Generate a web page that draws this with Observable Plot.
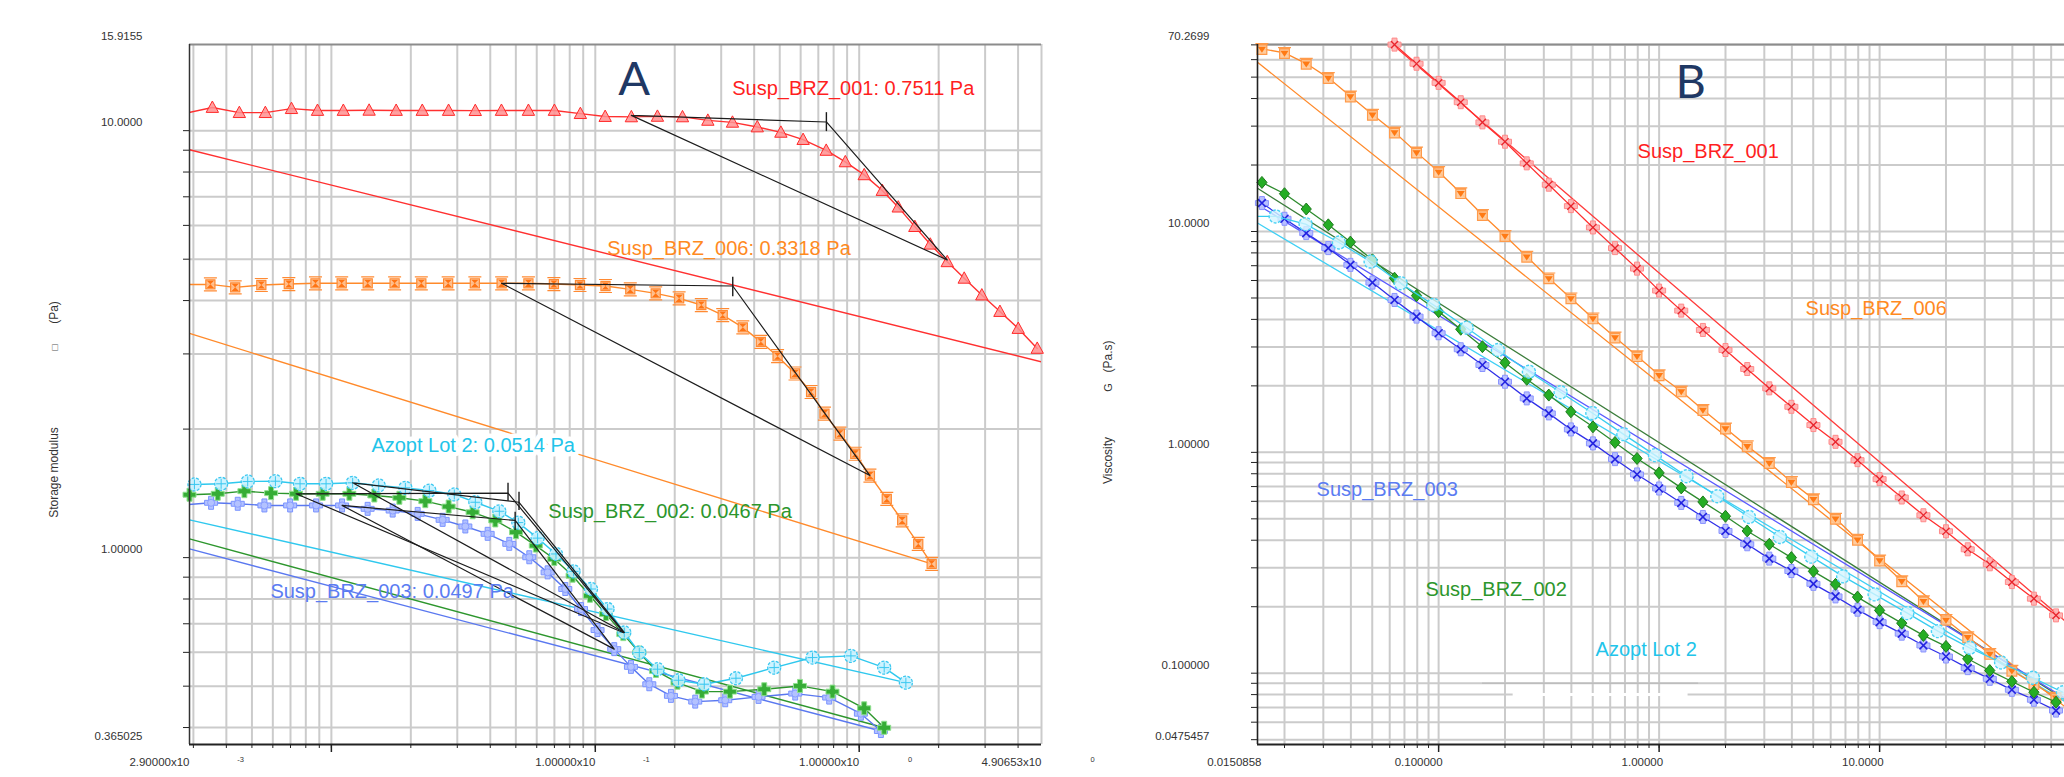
<!DOCTYPE html>
<html><head><meta charset="utf-8">
<script src="https://cdn.jsdelivr.net/npm/d3@7"></script>
<script src="https://cdn.jsdelivr.net/npm/@observablehq/plot@0.6"></script>
<style>
html,body{margin:0;padding:0;background:#fff;}
#wrap{position:relative;width:2064px;height:777px;overflow:hidden;background:#fff;}
#pa{position:absolute;left:0;top:0;}
#pb{position:absolute;left:1100px;top:0;}
</style></head><body><div id="wrap"><div id="pa"></div><div id="pb"></div></div>
<script>
// ---------------- Panel A data (storage modulus vs stress) ----------------
const aRedX = [0.00282,0.00354,0.00448,0.00562,0.00706,0.00886,0.0111,0.0139,0.0176,0.0221,0.0278,0.0351,0.0441,0.0558,0.0700,0.0878,0.109,0.137,0.172,0.214,0.267,0.331,0.411,0.505,0.613,0.750,0.886,1.045,1.223,1.406,1.625,1.859,2.156,2.500,2.915,3.414,4.005,4.727];
const aRedY = [11.0,11.33,11.02,11.02,11.26,11.15,11.15,11.16,11.15,11.15,11.15,11.14,11.15,11.15,11.15,10.96,10.79,10.77,10.80,10.77,10.57,10.46,10.20,9.91,9.53,8.99,8.45,7.88,7.24,6.62,5.96,5.42,4.93,4.51,4.12,3.77,3.44,3.09];
const aOrangeX = [0.00283,0.003480,0.004321,0.005427,0.006898,0.008705,0.01094,0.01373,0.01736,0.02192,0.02770,0.03496,0.04417,0.05580,0.06969,0.08750,0.1093,0.1357,0.1694,0.2078,0.2522,0.3040,0.3622,0.4239,0.4906,0.5711,0.6572,0.7386,0.8450,0.9663,1.098,1.272,1.455,1.674,1.882];
const aOrangeY = [4.36,4.366,4.296,4.350,4.373,4.390,4.390,4.390,4.390,4.390,4.390,4.390,4.390,4.390,4.373,4.350,4.327,4.250,4.159,4.049,3.905,3.700,3.462,3.202,2.963,2.699,2.443,2.174,1.951,1.751,1.557,1.373,1.222,1.077,0.9665];
const aCyanX = [0.003028,0.003822,0.004819,0.006136,0.007609,0.009548,0.01204,0.01511,0.01907,0.02351,0.02923,0.03511,0.04329,0.05109,0.06045,0.07097,0.08276,0.09632,0.1113,0.1288,0.1468,0.1722,0.2067,0.2588,0.3412,0.4764,0.6654,0.9302,1.2437,1.5026];
const aCyanY = [1.484,1.489,1.508,1.510,1.489,1.489,1.497,1.476,1.457,1.436,1.406,1.348,1.284,1.208,1.111,1.020,0.9286,0.8443,0.7578,0.6678,0.5994,0.5479,0.5162,0.5052,0.5218,0.5527,0.5834,0.5888,0.5527,0.5096];
const aGreenX = [0.0029,0.003710,0.004682,0.005910,0.007349,0.009268,0.01170,0.01455,0.01810,0.02270,0.02782,0.03429,0.04180,0.05008,0.05951,0.06993,0.08204,0.09548,0.1098,0.1277,0.1468,0.1698,0.2049,0.2536,0.3237,0.4368,0.5963,0.7922,1.0445,1.2437];
const aGreenY = [1.404,1.411,1.431,1.416,1.411,1.411,1.411,1.398,1.381,1.356,1.317,1.277,1.222,1.147,1.067,0.9929,0.9072,0.8141,0.7375,0.6620,0.5994,0.5429,0.5096,0.4855,0.4855,0.4918,0.5006,0.4855,0.4437,0.3995];
const aBlueX = [0.00279,0.003501,0.004417,0.005575,0.006978,0.008750,0.01098,0.01372,0.01707,0.02123,0.02640,0.03218,0.03909,0.04722,0.05623,0.06597,0.07697,0.08828,0.1020,0.1180,0.1365,0.1602,0.1935,0.2392,0.3107,0.4155,0.5724,0.7697,1.0149,1.2085];
const aBlueY = [1.330,1.344,1.337,1.325,1.325,1.325,1.325,1.301,1.289,1.266,1.226,1.183,1.137,1.077,1.002,0.9236,0.8443,0.7578,0.6766,0.6105,0.5548,0.5052,0.4745,0.4600,0.4634,0.4719,0.4804,0.4701,0.4310,0.3925];
// straight reference lines (panel A)
const aRedFitX = [0.0029,4.90653], aRedFitY = [9.02,2.874];
const aOrangeFitX = [0.0029,1.882], aOrangeFitY = [3.350,0.9665];
const aCyanFitX = [0.0029,1.5026], aCyanFitY = [1.226,0.5096];
const aGreenFitX = [0.0029,1.2437], aGreenFitY = [1.106,0.3995];
const aBlueFitX = [0.0029,1.2085], aBlueFitY = [1.048,0.3925];
// yield-point construction (tangent triangles) and yield stresses
const triRedX = [0.137,0.7511,2.156], triRedY = [10.86,10.48,4.98];
const triOrangeX = [0.04417,0.3318,1.098], triOrangeY = [4.39,4.327,1.557];
const triCyanX = [0.01204,0.0514,0.1288], triCyanY = [1.497,1.348,0.6678];
const triGreenX = [0.007349,0.0467,0.1280], triGreenY = [1.411,1.416,0.667];
const triBlueX = [0.01098,0.0497,0.1180], triBlueY = [1.325,1.222,0.6105];
const yieldX = [0.7511,0.3318,0.0514,0.0467,0.0497];
const yieldLo = [9.95,4.083,1.289,1.356,1.157];
const yieldHi = [11.02,4.536,1.423,1.494,1.277];
const labelsA = ["Susp_BRZ_001: 0.7511 Pa","Susp_BRZ_006: 0.3318 Pa","Azopt Lot 2: 0.0514 Pa","Susp_BRZ_002: 0.0467 Pa","Susp_BRZ_003: 0.0497 Pa"];
// axis tick labels A
const aXTicks = [0.0029,0.1,1,4.90653];
const aXTickLabels = ["2.90000x10","1.00000x10","1.00000x10","4.90653x10"];
const aXTickExp = ["-3","-1","0","0"];
const aYTicks = [15.9155,10,1,0.365025];
const aYTickLabels = ["15.9155","10.0000","1.00000","0.365025"];

// ---------------- Panel B data (viscosity vs shear rate) ----------------
const bGridRateX = [0.0158,0.0200,0.0251,0.0316,0.0398,0.0501,0.0631,0.0794,0.100,0.126,0.158,0.200,0.251,0.316,0.398,0.501,0.631,0.794,1.00,1.26,1.58,2.00,2.51,3.16,3.98,5.01,6.31,7.94,10.0,12.6,15.8,20.0,25.1,31.6,39.8,50.1,63.1];
const bRedX = [0.0631,0.0794,0.100,0.126,0.158,0.200,0.251,0.316,0.398,0.501,0.631,0.794,1.00,1.26,1.58,2.00,2.51,3.16,3.98,5.01,6.31,7.94,10.0,12.6,15.8,20.0,25.1,31.6,39.8,50.1,63.1];
const bRedY = [70.2,57.5,47.1,38.5,31.2,25.5,20.35,16.29,13.03,10.43,8.41,6.79,5.400,4.383,3.583,2.907,2.384,1.949,1.608,1.329,1.116,0.9218,0.7561,0.6245,0.5190,0.4391,0.3639,0.3112,0.2586,0.2175,0.1827];
const bOrangeY = [67.18,64.44,57.61,49.62,40.95,33.83,28.12,22.82,18.65,14.94,11.90,9.561,7.702,6.147,4.989,4.049,3.319,2.731,2.239,1.891,1.558,1.284,1.067,0.8962,0.7350,0.6147,0.5014,0.4027,0.3244,0.2614,0.2121,0.1747,0.1457,0.1225,0.1028,0.0895,0.0776];
const bGreenY = [16.68,14.83,12.64,10.72,8.954,7.441,6.147,5.126,4.337,3.609,3.009,2.546,2.141,1.817,1.526,1.305,1.109,0.9382,0.8072,0.6902,0.5964,0.5136,0.4406,0.3835,0.3337,0.2892,0.2525,0.2211,0.1925,0.1685,0.1483,0.1322,0.1162,0.1028,0.0917,0.0820,0.0739];
const bBlueY = [13.45,11.42,9.834,8.409,7.063,5.871,4.899,4.117,3.462,2.929,2.486,2.088,1.755,1.501,1.270,1.098,0.9315,0.7943,0.6859,0.5902,0.5098,0.4406,0.3835,0.3302,0.2901,0.2538,0.2227,0.1939,0.1703,0.1510,0.1335,0.1190,0.1054,0.0943,0.0841,0.0758,0.0677];
const bCyanX = [0.0138,0.01823,0.02493,0.03530,0.04915,0.06726,0.09462,0.1340,0.1857,0.2567,0.3574,0.4978,0.6882,0.9572,1.332,1.836,2.555,3.530,4.899,6.832,9.491,13.36,18.38,25.60,35.56,49.57,67.82];
const bCyanY = [11.70,11.70,10.80,8.916,7.309,5.834,4.652,3.669,2.907,2.318,1.871,1.506,1.209,0.9712,0.7799,0.6330,0.5098,0.4137,0.3372,0.2745,0.2275,0.1871,0.1550,0.1303,0.1118,0.0953,0.0820];
const bRedFitX = [0.0606,100], bRedFitY = [71.5,0.126];
const bOrangeFitX = [0.0150858,100], bOrangeFitY = [58.4,0.0526];
const bGreenFitX = [0.0150858,100], bGreenFitY = [15.70,0.0602];
const bBlueFitX = [0.0150858,100], bBlueFitY = [13.22,0.0617];
const bCyanFitX = [0.0150858,100], bCyanFitY = [10.92,0.0599];
const labelsB = ["Susp_BRZ_001","Susp_BRZ_006","Susp_BRZ_003","Susp_BRZ_002","Azopt Lot 2"];
const bXTicks = [0.0150858,0.1,1,10];
const bXTickLabels = ["0.0150858","0.100000","1.00000","10.0000"];
const bYTicks = [70.2699,10,1,0.1,0.0475457];
const bYTickLabels = ["70.2699","10.0000","1.00000","0.100000","0.0475457"];

// ---------------- helpers & styles ----------------
const pts = (xs, ys) => xs.map((x, i) => ({x, y: ys[i]}));
const logGrid = (lo, hi) => { const out = []; for (let e = -4; e <= 2; e++) for (let m = 1; m <= 9; m++) { const v = +(m * Math.pow(10, e)).toPrecision(6); if (v > lo * 1.001 && v < hi * 0.999) out.push(v); } return out; };
const R = s => Math.sqrt(s / Math.PI);
const symTri = {draw(c, s) { const r = R(s); c.moveTo(0, -r); c.lineTo(r * 0.95, r * 0.75); c.lineTo(-r * 0.95, r * 0.75); c.closePath(); }};
const symSqCaps = {draw(c, s) { const r = R(s); c.rect(-r * 0.7, -r * 0.7, r * 1.4, r * 1.4); c.moveTo(-r, -r); c.lineTo(r, -r); c.moveTo(-r, r); c.lineTo(r, r); }};
const symBowtie = {draw(c, s) { const r = R(s) * 0.55; c.moveTo(-r, -r); c.lineTo(r, -r); c.lineTo(0, 0); c.closePath(); c.moveTo(-r, r); c.lineTo(r, r); c.lineTo(0, 0); c.closePath(); }};
const symPlus = {draw(c, s) { const r = R(s), w = r * 0.38; c.moveTo(-w, -r); c.lineTo(w, -r); c.lineTo(w, -w); c.lineTo(r, -w); c.lineTo(r, w); c.lineTo(w, w); c.lineTo(w, r); c.lineTo(-w, r); c.lineTo(-w, w); c.lineTo(-r, w); c.lineTo(-r, -w); c.lineTo(-w, -w); c.closePath(); }};
const symX = {draw(c, s) { const r = R(s) * 0.72; c.moveTo(-r, -r); c.lineTo(r, r); c.moveTo(r, -r); c.lineTo(-r, r); }};
const symVert = {draw(c, s) { const r = R(s); c.moveTo(0, -r); c.lineTo(0, r); c.moveTo(-r, 0); c.lineTo(r, 0); }};
const symSqTop = {draw(c, s) { const r = R(s); c.rect(-r * 0.75, -r * 0.6, r * 1.5, r * 1.45); c.moveTo(-r, -r * 0.8); c.lineTo(r, -r * 0.8); }};
const symTriDown = {draw(c, s) { const r = R(s) * 0.62; c.moveTo(-r, -r * 0.5); c.lineTo(r, -r * 0.5); c.lineTo(0, r); c.closePath(); }};
const symDiamond = {draw(c, s) { const r = R(s); c.moveTo(0, -r); c.lineTo(r * 0.85, 0); c.lineTo(0, r); c.lineTo(-r * 0.85, 0); c.closePath(); }};

const C = {red: "#ff3030", orange: "#ff8a2b", cyan: "#2fc8ee", green: "#2d962d", blue: "#5a78f0", black: "#1c1c1c"};
const TXT = {red: "#ff1f1f", orange: "#ff8a1f", cyan: "#22c4ea", green: "#2c962c", blue: "#5b7cf2"};
const GRID = "#cbcbcb";
const FONT = "'Liberation Sans', Arial, sans-serif";

function seriesMarks(xs, ys, color, width, markers, dom) {
  const P = pts(xs, ys);
  const D = P.filter(p => p.x >= dom[0] * 0.995 && p.x <= dom[1] * 1.005);
  const m = [Plot.line(P, {x: "x", y: "y", stroke: color, strokeWidth: width, clip: true})];
  for (const mk of markers) m.push(Plot.dot(D, {x: "x", y: "y", ...mk}));
  return m;
}
function fitLine(xs, ys, color, w) { return Plot.line(pts(xs, ys), {x: "x", y: "y", stroke: color, strokeWidth: w, clip: true}); }
function triangle(xs, ys) { const P = pts(xs, ys); return Plot.line([...P, P[0]], {x: "x", y: "y", stroke: C.black, strokeWidth: 1.2}); }
function axisTitle(t, dx, dy, size, fill) { return Plot.text([t], {text: d => d, frameAnchor: "left", textAnchor: "middle", lineAnchor: "middle", rotate: -90, dx, dy, fontSize: size, fill}); }

// ---------------- Panel A ----------------
const AX = [0.0029, 4.90653], AY = [0.365025, 15.9155];
const gridAX = logGrid(AX[0], AX[1]), gridAY = logGrid(AY[0], AY[1]);
const annA = [
  {i: 0, x: 0.3304, y: 12.55, c: TXT.red},
  {i: 1, x: 0.1110, y: 5.284, c: TXT.orange},
  {i: 2, x: 0.01418, y: 1.832, c: TXT.cyan, halo: true},
  {i: 3, x: 0.06637, y: 1.282, c: TXT.green},
  {i: 4, x: 0.005873, y: 0.8321, c: TXT.blue}
];
const plotA = Plot.plot({
  width: 1100, height: 777,
  marginLeft: 189, marginRight: 59, marginTop: 44, marginBottom: 33,
  x: {type: "log", domain: AX, axis: null, label: null},
  y: {type: "log", domain: AY, axis: null, label: null},
  style: {background: "transparent", fontFamily: FONT, overflow: "visible"},
  marks: [
    Plot.ruleX(gridAX, {stroke: GRID, strokeWidth: 2}),
    Plot.ruleY(gridAY, {stroke: GRID, strokeWidth: 2}),
    Plot.ruleX([AX[1]], {stroke: GRID, strokeWidth: 2}),
    Plot.ruleY([AY[1]], {stroke: "#8c8c8c", strokeWidth: 2}),
    fitLine(aRedFitX, aRedFitY, C.red, 1.4),
    fitLine(aOrangeFitX, aOrangeFitY, C.orange, 1.4),
    fitLine(aCyanFitX, aCyanFitY, C.cyan, 1.4),
    fitLine(aGreenFitX, aGreenFitY, C.green, 1.4),
    fitLine(aBlueFitX, aBlueFitY, C.blue, 1.4),
    ...seriesMarks(aRedX, aRedY, C.red, 1.4, [{symbol: symTri, r: 6.5, fill: "#ff9090", fillOpacity: 0.85, stroke: "#ff2a2a", strokeWidth: 1}], AX),
    ...seriesMarks(aOrangeX, aOrangeY, C.orange, 1.4, [{symbol: symSqCaps, r: 6.5, fill: "#ffbd8a", fillOpacity: 0.9, stroke: "#ff8a33", strokeWidth: 1.2}, {symbol: symBowtie, r: 6.5, fill: "#ff7414", stroke: "none"}], AX),
    ...seriesMarks(aBlueX, aBlueY, C.blue, 1.4, [{symbol: symPlus, r: 6.5, fill: "#b3c2ff", stroke: "#7a93ff", strokeWidth: 1}, {symbol: "circle", r: 3.5, fill: "none", stroke: "#8ca0ff", strokeWidth: 1}], AX),
    ...seriesMarks(aGreenX, aGreenY, C.green, 1.4, [{symbol: symPlus, r: 6.5, fill: "#36ad36", stroke: "#8fe08f", strokeWidth: 1}], AX),
    ...seriesMarks(aCyanX, aCyanY, C.cyan, 1.4, [{symbol: "circle", r: 6.5, fill: "#c9f2ff", fillOpacity: 0.9, stroke: "#3cc8f0", strokeWidth: 1.3, strokeDasharray: "3 1.5"}, {symbol: symVert, r: 5, fill: "none", stroke: "#3cc8f0", strokeWidth: 1}], AX),
    triangle(triRedX, triRedY),
    triangle(triOrangeX, triOrangeY),
    triangle(triCyanX, triCyanY),
    triangle(triGreenX, triGreenY),
    triangle(triBlueX, triBlueY),
    Plot.ruleX(yieldX.map((x, i) => ({x, lo: yieldLo[i], hi: yieldHi[i]})), {x: "x", y1: "lo", y2: "hi", stroke: C.black, strokeWidth: 1.4}),
    Plot.ruleX([AX[0]], {stroke: "#333", strokeWidth: 1.5}),
    Plot.ruleY([AY[0]], {stroke: "#222", strokeWidth: 1.8}),
    Plot.axisY({ticks: gridAY, tickSize: 6, tickFormat: () => "", label: null, stroke: "#222"}),
    Plot.axisX({ticks: gridAX, tickSize: 4, tickFormat: () => "", label: null, stroke: "#222"}),
    Plot.axisX({ticks: [0.01, 0.1, 1], tickSize: 8, tickFormat: () => "", label: null, stroke: "#222", strokeWidth: 1.5}),
    Plot.text(aYTicks, {y: d => d, text: (d, i) => aYTickLabels[i], frameAnchor: "left", textAnchor: "end", lineAnchor: "middle", dx: -47, dy: -8, fontSize: 11.5, fill: "#333"}),
    Plot.text(aXTicks, {x: d => d, text: (d, i) => aXTickLabels[i], frameAnchor: "bottom", textAnchor: "end", lineAnchor: "middle", dy: 18, fontSize: 11.5, fill: "#333"}),
    Plot.text(aXTicks, {x: d => d, text: (d, i) => aXTickExp[i], frameAnchor: "bottom", textAnchor: "middle", lineAnchor: "middle", dx: 51, dy: 15, fontSize: 7.5, fill: "#333"}),
    axisTitle("Storage modulus", -135, 78, 12, "#333"),
    axisTitle("\u25A1", -135, -47, 10, "#555"),
    axisTitle("(Pa)", -135, -82, 12, "#333"),
    ...annA.filter(a => a.halo).map(a => Plot.text([a], {x: "x", y: "y", text: d => labelsA[d.i], textAnchor: "start", fontSize: 20, fill: "white", stroke: "white", strokeWidth: 9})),
    ...annA.map(a => Plot.text([a], {x: "x", y: "y", text: d => labelsA[d.i], textAnchor: "start", fontSize: 20, fill: a.c})),
    Plot.text(["A"], {x: 0.1405, y: 13.18, text: d => d, fontFamily: "Lato, 'Open Sans', sans-serif", fontSize: 47, fill: "#1f3864"})
  ]
});
document.getElementById("pa").appendChild(plotA);

// ---------------- Panel B ----------------
const BX = [0.0150858, 68.95], BY = [0.0475457, 70.2699];
const gridBX = logGrid(BX[0], BX[1]), gridBY = logGrid(BY[0], BY[1]);
const annB = [
  {i: 0, x: 0.7989, y: 22.98, c: TXT.red},
  {i: 1, x: 4.617, y: 4.461, c: TXT.orange},
  {i: 2, x: 0.02797, y: 0.6810, c: TXT.blue},
  {i: 3, x: 0.08729, y: 0.2397, c: TXT.green},
  {i: 4, x: 0.5152, y: 0.1281, c: TXT.cyan}
];
const plotB = Plot.plot({
  width: 964, height: 777,
  marginLeft: 157, marginRight: 0, marginTop: 44, marginBottom: 33,
  x: {type: "log", domain: BX, axis: null, label: null},
  y: {type: "log", domain: BY, axis: null, label: null},
  style: {background: "transparent", fontFamily: FONT, overflow: "visible"},
  marks: [
    Plot.ruleX(gridBX, {stroke: GRID, strokeWidth: 2}),
    Plot.ruleY(gridBY, {stroke: GRID, strokeWidth: 2}),
    // erased / retouched pieces of two grid lines in the original image
    Plot.ruleY([0.08], {x1: 0.2178, x2: 1.353, stroke: "white", strokeWidth: 3}),
    Plot.ruleY([0.09], {x1: 0.1583, x2: 1.51, stroke: "#bdbdbd", strokeWidth: 1.6}),
    Plot.ruleY([BY[1]], {stroke: "#8c8c8c", strokeWidth: 2}),
    fitLine(bRedFitX, bRedFitY, "#ff3b3b", 1.3),
    fitLine(bOrangeFitX, bOrangeFitY, C.orange, 1.3),
    fitLine(bGreenFitX, bGreenFitY, "#3b7d3b", 1.3),
    fitLine(bBlueFitX, bBlueFitY, "#5b5bff", 1.3),
    fitLine(bCyanFitX, bCyanFitY, "#3fd0f5", 1.3),
    ...seriesMarks(bRedX, bRedY, "#ff2e2e", 1.3, [{symbol: symPlus, r: 6.5, fill: "#ffb0b0", fillOpacity: 0.9, stroke: "#ff8a8a", strokeWidth: 1}, {symbol: symX, r: 5, fill: "none", stroke: "#e8242c", strokeWidth: 1.3}], BX),
    ...seriesMarks(bGridRateX, bOrangeY, C.orange, 1.3, [{symbol: symSqTop, r: 6.5, fill: "#ffc896", fillOpacity: 0.9, stroke: "#ff9a4a", strokeWidth: 1.2}, {symbol: symTriDown, r: 6.5, fill: "#ff7a14", stroke: "none"}], BX),
    ...seriesMarks(bGridRateX, bBlueY, "#3030e8", 1.3, [{symbol: symPlus, r: 6.5, fill: "#b9c0ff", stroke: "#8a94ff", strokeWidth: 1}, {symbol: symX, r: 5.5, fill: "none", stroke: "#2323e0", strokeWidth: 1.6}], BX),
    ...seriesMarks(bGridRateX, bGreenY, "#2e8c2e", 1.3, [{symbol: symDiamond, r: 6, fill: "#25ad25", stroke: "#1e7a1e", strokeWidth: 1}], BX),
    ...seriesMarks(bCyanX, bCyanY, "#38cdf0", 1.3, [{symbol: "circle", r: 6.5, fill: "#d4f5ff", fillOpacity: 0.8, stroke: "#4ad2f5", strokeWidth: 1.4, strokeDasharray: "3 1.5"}], BX),
    Plot.ruleX([BX[0]], {stroke: "#222", strokeWidth: 1.6}),
    Plot.ruleY([BY[0]], {stroke: "#222", strokeWidth: 1.8}),
    Plot.axisY({ticks: gridBY, tickSize: 6, tickFormat: () => "", label: null, stroke: "#222"}),
    Plot.axisX({ticks: gridBX, tickSize: 4, tickFormat: () => "", label: null, stroke: "#222"}),
    Plot.axisX({ticks: [0.1, 1, 10], tickSize: 8, tickFormat: () => "", label: null, stroke: "#222", strokeWidth: 1.5}),
    Plot.text(bYTicks, {y: d => d, text: (d, i) => bYTickLabels[i], frameAnchor: "left", textAnchor: "end", lineAnchor: "middle", dx: -48, dy: -8, fontSize: 11.5, fill: "#333"}),
    Plot.text(bXTicks, {x: d => d, text: (d, i) => bXTickLabels[i], frameAnchor: "bottom", textAnchor: "end", lineAnchor: "middle", dx: 4, dy: 18, fontSize: 11.5, fill: "#333"}),
    axisTitle("Viscosity", -149, 66, 12, "#333"),
    axisTitle("G", -149, -7, 11, "#333"),
    axisTitle("(Pa.s)", -149, -38, 12, "#333"),
    ...annB.map(a => Plot.text([a], {x: "x", y: "y", text: d => labelsB[d.i], textAnchor: "start", fontSize: 20, fill: a.c})),
    Plot.text(["B"], {x: 1.389, y: 47.25, text: d => d, fontFamily: "Lato, 'Open Sans', sans-serif", fontSize: 47, fill: "#1f3864"})
  ]
});
document.getElementById("pb").appendChild(plotB);
</script></body></html>
